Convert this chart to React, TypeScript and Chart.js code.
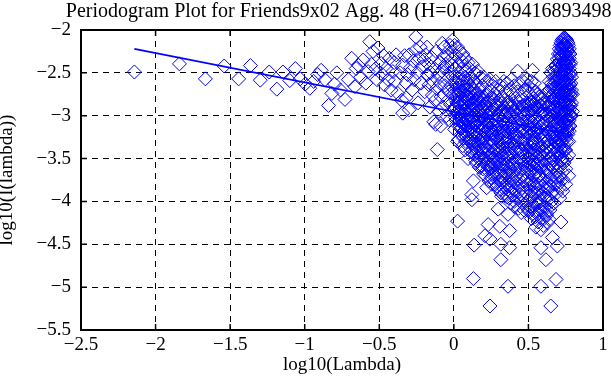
import React, { useEffect, useRef } from "react";
import { Chart, registerables } from "chart.js";

Chart.register(...registerables);

const TITLE = "Periodogram Plot for Friends9x02 Agg. 48 (H=0.671269416893498)";
const X_LABEL = "log10(Lambda)";
const Y_LABEL = "log10(I(lambda))";

const xTicks = [-2.5, -2, -1.5, -1, -0.5, 0, 0.5, 1];
const yTicks = [-5.5, -5, -4.5, -4, -3.5, -3, -2.5, -2];

// fitted regression line (log10 lambda, log10 I)
const fitLogLambda = [-2.142, 0.798];
const fitLogPeriodogram = [-2.22, -3.227];

// sparse low-frequency points: [log10(lambda), log10(I(lambda))]
const lowFreq: number[][] = [
  [-2.142, -2.49], [-1.84, -2.395], [-1.666, -2.57], [-1.54, -2.42], [-1.443, -2.57],
  [-1.364, -2.415], [-1.298, -2.585], [-1.238, -2.49], [-1.187, -2.69], [-1.146, -2.49],
  [-1.1, -2.59], [-1.063, -2.45], [-1.03, -2.57], [-0.996, -2.63], [-0.966, -2.68],
  [-0.94, -2.6], [-0.913, -2.52], [-0.89, -2.47], [-0.864, -2.58], [-0.84, -2.88],
  [-0.818, -2.74], [-0.8, -2.63], [-0.785, -2.5], [-0.76, -2.7], [-0.73, -2.81],
  [-0.707, -2.58], [-0.685, -2.33], [-0.664, -2.66], [-0.655, -2.45], [-0.641, -2.41],
  [-0.625, -2.55], [-0.608, -2.35], [-0.59, -2.62], [-0.575, -2.485], [-0.564, -2.136],
  [-0.553, -2.4], [-0.542, -2.25], [-0.525, -2.45], [-0.515, -2.58], [-0.509, -2.21],
];

const midFreq: number[][] = [
  [-0.487, -2.39], [-0.48, -2.52], [-0.47, -2.3], [-0.465, -2.64], [-0.455, -2.45],
  [-0.44, -2.58], [-0.432, -2.33], [-0.42, -2.7], [-0.409, -2.485], [-0.4, -2.38],
  [-0.395, -2.6], [-0.387, -2.29], [-0.376, -2.74], [-0.36, -2.5], [-0.35, -2.82],
  [-0.343, -2.41], [-0.343, -2.97], [-0.33, -2.3], [-0.321, -2.79], [-0.32, -2.62],
  [-0.31, -2.52], [-0.3, -2.93], [-0.299, -2.29], [-0.29, -2.44], [-0.28, -2.7],
  [-0.27, -2.36], [-0.266, -2.58], [-0.255, -2.08], [-0.255, -2.23], [-0.245, -2.5],
  [-0.24, -2.85], [-0.233, -2.33], [-0.225, -2.2], [-0.22, -2.62], [-0.21, -2.43],
  [-0.2, -2.35], [-0.195, -2.72], [-0.189, -2.29], [-0.18, -2.2], [-0.177, -2.52],
  [-0.17, -2.4], [-0.167, -2.64], [-0.16, -2.9], [-0.155, -2.5], [-0.15, -2.32],
  [-0.144, -2.76], [-0.14, -2.6], [-0.134, -3.07], [-0.13, -2.45], [-0.125, -2.82],
  [-0.122, -3.1], [-0.12, -2.25], [-0.115, -2.68], [-0.111, -3.395], [-0.105, -2.52],
  [-0.1, -2.95], [-0.095, -2.38], [-0.09, -2.62], [-0.089, -3.12], [-0.085, -2.78],
  [-0.08, -2.48], [-0.078, -2.155], [-0.072, -2.9], [-0.067, -2.31], [-0.067, -2.445],
  [-0.065, -2.2], [-0.06, -2.65], [-0.055, -2.4], [-0.05, -3.0], [-0.045, -2.58],
  [-0.042, -2.3], [-0.04, -2.82], [-0.034, -2.72], [-0.03, -2.5], [-0.028, -3.05],
  [-0.023, -2.87], [-0.02, -2.65], [-0.015, -2.25], [-0.012, -2.41], [-0.008, -2.95],
  [-0.005, -2.55], [-0.002, -2.75], [-0.01, -2.12], [-0.018, -2.34], [-0.026, -2.18],
];

// dense band, read column by column: [log10(lambda), [log10(I) values...]]
const highFreq: [number, number[]][] = [
  [0.005, [-2.18, -2.45, -2.7, -2.92, -3.16]],
  [0.015, [-2.3, -2.55, -2.82, -3.05]],
  [0.025, [-2.2, -2.62, -2.98, -3.3, -4.23]],
  [0.032, [-2.4, -2.75, -3.28]],
  [0.04, [-2.25, -2.5, -2.88, -3.12]],
  [0.05, [-2.35, -2.65, -3.0, -3.22]],
  [0.06, [-2.28, -2.58, -2.8, -3.08, -3.35]],
  [0.07, [-2.42, -2.7, -2.95, -3.18]],
  [0.076, [-2.33, -2.55, -2.85, -3.4]],
  [0.085, [-2.48, -2.76, -3.05, -3.25]],
  [0.095, [-2.38, -2.62, -2.9, -3.12, -3.5]],
  [0.105, [-2.45, -2.72, -2.98, -3.3]],
  [0.115, [-2.55, -2.82, -3.08, -3.42]],
  [0.121, [-3.92, -3.98]],
  [0.125, [-2.4, -2.68, -2.92, -3.2]],
  [0.131, [-2.6, -3.35, -3.76, -4.9]],
  [0.136, [-2.85, -3.1, -4.51]],
  [0.142, [-2.5, -2.75, -3.0, -3.45]],
  [0.15, [-2.62, -2.9, -3.2, -3.55]],
  [0.16, [-2.48, -2.8, -3.05, -3.32]],
  [0.17, [-2.7, -2.95, -3.15, -3.6]],
  [0.18, [-2.55, -2.85, -3.1, -3.4]],
  [0.19, [-2.65, -3.0, -3.25, -3.52]],
  [0.2, [-2.55, -2.78, -3.12, -3.38, -3.68]],
  [0.209, [-2.9, -3.2, -4.4]],
  [0.22, [-2.6, -2.85, -3.05, -3.45, -3.84]],
  [0.23, [-2.72, -3.0, -3.3, -3.6, -4.27]],
  [0.242, [-2.58, -2.92, -3.15, -3.5, -4.44, -5.22]],
  [0.25, [-2.8, -3.08, -3.35, -3.72]],
  [0.26, [-2.65, -2.95, -3.22, -3.55]],
  [0.27, [-2.75, -3.05, -3.4, -3.8]],
  [0.28, [-2.6, -2.88, -3.18, -3.48, -3.65]],
  [0.297, [-2.7, -3.0, -3.3, -3.6, -4.09]],
  [0.308, [-2.82, -3.1, -3.42, -3.75, -4.29]],
  [0.315, [-2.65, -2.95, -3.25, -3.9, -4.5, -4.68]],
  [0.325, [-2.78, -3.05, -3.35, -3.62]],
  [0.335, [-2.6, -2.9, -3.18, -3.5, -3.85]],
  [0.345, [-2.72, -3.0, -3.3, -3.7]],
  [0.355, [-2.62, -2.85, -3.12, -3.45, -3.95]],
  [0.363, [-2.95, -3.25, -3.6, -4.15, -4.99]],
  [0.374, [-2.7, -3.05, -3.38, -3.8, -4.34, -4.54]],
  [0.385, [-2.58, -2.88, -3.2, -3.52, -3.9]],
  [0.395, [-2.75, -3.02, -3.32, -3.68]],
  [0.405, [-2.65, -2.95, -3.25, -3.58, -4.0]],
  [0.415, [-2.8, -3.1, -3.42, -3.78]],
  [0.427, [-2.48, -2.72, -3.0, -3.3, -3.62]],
  [0.44, [-2.62, -2.9, -3.18, -3.5, -3.88]],
  [0.452, [-2.78, -3.05, -3.4, -3.72, -4.13]],
  [0.465, [-2.6, -2.88, -3.15, -3.45, -3.95]],
  [0.478, [-2.7, -3.0, -3.28, -3.6, -4.05]],
  [0.49, [-2.58, -2.85, -3.12, -3.42, -3.8]],
  [0.5, [-2.65, -2.92, -3.2, -3.5, -3.85, -4.1]],
  [0.51, [-2.75, -3.05, -3.35, -3.65, -3.98]],
  [0.52, [-2.6, -2.88, -3.15, -3.45, -3.75, -4.2]],
  [0.527, [-2.47, -2.7, -3.0, -3.3, -3.58]],
  [0.535, [-2.8, -3.1, -3.4, -3.7, -4.05]],
  [0.54, [-2.62, -2.95, -3.25, -3.55, -3.9, -4.06]],
  [0.55, [-2.72, -3.02, -3.32, -3.62, -4.0, -4.3]],
  [0.56, [-2.75, -2.9, -3.18, -3.48, -3.8, -4.15]],
  [0.57, [-2.78, -3.08, -3.38, -3.7, -4.02]],
  [0.584, [-2.8, -2.98, -3.28, -3.6, -3.92, -4.33, -4.54, -4.99]],
  [0.595, [-2.8, -3.1, -3.42, -3.75, -4.1]],
  [0.605, [-2.76, -2.95, -3.22, -3.52, -3.85, -4.2]],
  [0.617, [-2.85, -3.15, -3.45, -3.78, -4.13, -4.68]],
  [0.628, [-2.72, -3.0, -3.3, -3.62, -3.95, -4.25]],
  [0.639, [-2.6, -2.9, -3.2, -3.5, -3.85, -4.21]],
  [0.65, [-2.5, -2.78, -3.08, -3.4, -3.72, -4.05, -5.22]],
  [0.661, [-2.45, -2.65, -2.95, -3.25, -3.6, -3.9, -4.42]],
];

// the solid core of the dense band, column by column
const coreFreq: [number, number[]][] = [
  [0.01, [-2.62, -2.78, -2.9, -3.02]],
  [0.02, [-2.68, -2.85, -2.96, -3.1]],
  [0.036, [-2.58, -2.7, -2.84, -2.97, -3.06]],
  [0.045, [-2.72, -2.82, -2.95, -3.15]],
  [0.055, [-2.6, -2.76, -2.9, -3.05, -3.14]],
  [0.065, [-2.66, -2.85, -2.98, -3.1, -3.26]],
  [0.08, [-2.7, -2.8, -2.94, -3.12, -3.3]],
  [0.09, [-2.6, -2.82, -2.98, -3.18]],
  [0.1, [-2.78, -2.88, -3.04, -3.2, -3.36]],
  [0.11, [-2.66, -2.92, -3.14, -3.26]],
  [0.12, [-2.74, -2.86, -3.02, -3.14, -3.32]],
  [0.128, [-2.8, -3.06, -3.28, -3.44]],
  [0.138, [-2.7, -2.92, -3.18, -3.3]],
  [0.146, [-2.82, -3.08, -3.24, -3.38, -3.52]],
  [0.155, [-2.74, -2.98, -3.12, -3.42]],
  [0.165, [-2.88, -3.0, -3.22, -3.38, -3.5]],
  [0.175, [-2.78, -3.04, -3.28, -3.46]],
  [0.185, [-2.9, -3.0, -3.16, -3.32, -3.58]],
  [0.195, [-2.8, -2.94, -3.18, -3.44, -3.62]],
  [0.205, [-2.86, -3.04, -3.26, -3.5]],
  [0.215, [-2.76, -2.96, -3.14, -3.36, -3.56, -3.7]],
  [0.225, [-2.9, -3.1, -3.22, -3.4, -3.64]],
  [0.236, [-2.82, -3.06, -3.2, -3.42, -3.58, -3.76]],
  [0.246, [-2.96, -3.14, -3.28, -3.46, -3.62]],
  [0.255, [-2.88, -3.0, -3.2, -3.44, -3.6, -3.8]],
  [0.265, [-2.8, -3.1, -3.3, -3.5, -3.68]],
  [0.275, [-2.92, -3.14, -3.26, -3.58, -3.72]],
  [0.288, [-2.84, -3.06, -3.24, -3.4, -3.54, -3.82]],
  [0.302, [-2.9, -3.16, -3.36, -3.5, -3.66, -3.86]],
  [0.312, [-2.98, -3.2, -3.32, -3.56, -3.7]],
  [0.32, [-2.86, -3.12, -3.28, -3.46, -3.78, -3.94]],
  [0.33, [-2.94, -3.22, -3.4, -3.58, -3.72]],
  [0.34, [-2.82, -3.1, -3.24, -3.44, -3.64, -3.9]],
  [0.35, [-2.96, -3.18, -3.38, -3.56, -3.8]],
  [0.36, [-2.88, -3.08, -3.3, -3.48, -3.7, -3.86]],
  [0.368, [-2.84, -3.14, -3.44, -3.66, -3.96]],
  [0.38, [-2.98, -3.16, -3.3, -3.62, -3.76, -4.02]],
  [0.39, [-2.9, -3.1, -3.44, -3.58, -3.84]],
  [0.4, [-2.86, -3.14, -3.36, -3.5, -3.74, -3.92]],
  [0.41, [-2.96, -3.2, -3.3, -3.62, -3.86, -4.06]],
  [0.42, [-2.9, -3.04, -3.24, -3.52, -3.7, -3.96]],
  [0.433, [-2.84, -3.12, -3.38, -3.56, -3.8, -4.08]],
  [0.446, [-2.96, -3.26, -3.44, -3.62, -3.92]],
  [0.458, [-2.9, -3.18, -3.3, -3.54, -3.84, -4.02]],
  [0.47, [-2.98, -3.08, -3.34, -3.52, -3.76, -4.1]],
  [0.484, [-2.88, -3.2, -3.38, -3.66, -3.9]],
  [0.495, [-2.96, -3.06, -3.3, -3.6, -3.72, -4.0]],
  [0.505, [-2.86, -3.14, -3.42, -3.56, -3.8, -4.12]],
  [0.515, [-2.94, -3.22, -3.36, -3.58, -3.88, -4.06]],
  [0.524, [-2.84, -3.08, -3.46, -3.64, -3.94]],
  [0.531, [-2.92, -3.18, -3.32, -3.52, -3.8, -4.14]],
  [0.545, [-2.86, -3.12, -3.4, -3.68, -3.84, -4.18]],
  [0.555, [-2.9, -3.16, -3.48, -3.58, -3.9, -4.12]],
  [0.565, [-2.94, -3.24, -3.34, -3.56, -3.86, -4.24]],
  [0.577, [-2.88, -3.14, -3.46, -3.7, -3.98, -4.1]],
  [0.59, [-2.96, -3.2, -3.36, -3.54, -3.82, -4.2]],
  [0.6, [-2.86, -3.08, -3.3, -3.64, -3.9, -4.28]],
  [0.611, [-2.98, -3.24, -3.4, -3.58, -3.96, -4.06]],
  [0.622, [-2.9, -3.12, -3.36, -3.7, -3.84, -4.16]],
  [0.633, [-2.8, -3.06, -3.28, -3.44, -3.66, -3.98]],
  [0.644, [-2.7, -2.96, -3.16, -3.34, -3.56, -3.82, -4.1]],
  [0.655, [-2.62, -2.86, -3.0, -3.2, -3.5, -3.76, -4.0]],
  [0.672, [-3.12, -3.3, -3.52, -3.8, -4.02]],
  [0.69, [-3.3, -3.48, -3.72, -3.9]],
  [0.71, [-3.34, -3.6, -3.84, -3.96]],
  [0.73, [-3.5, -3.74, -3.88]],
  [0.75, [-3.4, -3.62, -3.8]],
  [0.77, [-3.3, -3.46, -3.7]],
];

// the bright spike near the highest frequencies, column by column
const peakFreq: [number, number[]][] = [
  [0.668, [-2.55, -2.68, -2.8, -2.93, -3.06, -3.2, -3.38, -3.6]],
  [0.677, [-2.48, -2.6, -2.72, -2.85, -2.98, -3.1, -3.25, -3.45, -3.7]],
  [0.685, [-2.42, -2.54, -2.66, -2.78, -2.9, -3.03, -3.16, -3.32, -3.55, -4.91]],
  [0.694, [-2.34, -2.46, -2.58, -2.7, -2.82, -2.95, -3.08, -3.22, -3.4, -3.65, -4.52]],
  [0.701, [-2.28, -2.38, -2.5, -2.62, -2.74, -2.86, -2.98, -3.11, -3.25, -3.44, -3.8]],
  [0.707, [-2.22, -2.33, -2.44, -2.56, -2.68, -2.8, -2.92, -3.04, -3.18, -3.35, -3.58]],
  [0.713, [-2.18, -2.28, -2.39, -2.5, -2.62, -2.74, -2.86, -2.98, -3.12, -3.28, -3.48, -3.72]],
  [0.718, [-2.15, -2.24, -2.35, -2.46, -2.58, -2.7, -2.82, -2.94, -3.06, -3.2, -3.38, -4.24]],
  [0.724, [-2.12, -2.21, -2.31, -2.42, -2.54, -2.66, -2.78, -2.9, -3.02, -3.15, -3.3, -3.52]],
  [0.729, [-2.11, -2.19, -2.29, -2.4, -2.51, -2.63, -2.75, -2.87, -2.99, -3.12, -3.26, -3.42, -3.66]],
  [0.734, [-2.1, -2.17, -2.27, -2.38, -2.49, -2.61, -2.73, -2.85, -2.97, -3.09, -3.23, -3.38]],
  [0.739, [-2.09, -2.16, -2.26, -2.36, -2.47, -2.59, -2.71, -2.83, -2.95, -3.07, -3.2, -3.35, -3.55]],
  [0.744, [-2.09, -2.17, -2.27, -2.37, -2.48, -2.6, -2.72, -2.84, -2.96, -3.08, -3.22, -3.4]],
  [0.749, [-2.1, -2.18, -2.28, -2.39, -2.5, -2.62, -2.74, -2.86, -2.98, -3.11, -3.26]],
  [0.754, [-2.11, -2.2, -2.3, -2.41, -2.53, -2.65, -2.77, -2.89, -3.01, -3.14, -3.3, -3.5]],
  [0.759, [-2.13, -2.22, -2.33, -2.44, -2.56, -2.68, -2.8, -2.92, -3.04, -3.18]],
  [0.764, [-2.15, -2.25, -2.36, -2.47, -2.59, -2.71, -2.83, -2.95, -3.07, -3.22]],
  [0.769, [-2.18, -2.28, -2.39, -2.51, -2.63, -2.75, -2.87, -2.99, -3.12]],
  [0.774, [-2.22, -2.33, -2.45, -2.57, -2.69, -2.81, -2.93, -3.05, -3.18]],
  [0.779, [-2.28, -2.4, -2.52, -2.64, -2.76, -2.88, -3.0, -3.12]],
  [0.784, [-2.38, -2.5, -2.62, -2.75, -2.88, -3.0]],
  [0.789, [-2.55, -2.7, -2.85, -3.0]],
  [0.795, [-2.75, -2.95]],
];

const BLUE = "#0000ff";
const FONT = "'Liberation Serif', 'Times New Roman', Times, serif";

const fmt = (v: number) => (v < 0 ? "\u2212" + String(Math.abs(v)) : String(v));

// title centred over the axes, allowed to run past the right edge like the original
const titlePlugin = {
  id: "axesTitle",
  afterDraw(chart: any) {
    const { ctx, chartArea } = chart;
    ctx.save();
    ctx.fillStyle = "#000";
    ctx.font = `20px ${FONT}`;
    ctx.textAlign = "center";
    ctx.textBaseline = "alphabetic";
    ctx.fillText(TITLE, (chartArea.left + chartArea.right) / 2, 16.5);
    ctx.restore();
  },
};

const framePlugin = {
  id: "matlabFrame",
  afterDraw(chart: any) {
    const { ctx, chartArea } = chart;
    const { left, right, top, bottom } = chartArea;
    const xs = chart.scales.x;
    const ys = chart.scales.y;
    const len = 6;
    ctx.save();
    ctx.strokeStyle = "#000";
    ctx.lineWidth = 1.5;
    ctx.setLineDash([]);
    ctx.beginPath();
    xs.ticks.forEach((t: any) => {
      const p = xs.getPixelForValue(t.value);
      ctx.moveTo(p, bottom);
      ctx.lineTo(p, bottom - len);
      ctx.moveTo(p, top);
      ctx.lineTo(p, top + len);
    });
    ys.ticks.forEach((t: any) => {
      const p = ys.getPixelForValue(t.value);
      ctx.moveTo(left, p);
      ctx.lineTo(left + len, p);
      ctx.moveTo(right, p);
      ctx.lineTo(right - len, p);
    });
    ctx.stroke();
    ctx.lineWidth = 2;
    ctx.strokeRect(left, top, right - left, bottom - top);
    ctx.restore();
  },
};

export default function App() {
  const ref = useRef<HTMLCanvasElement | null>(null);

  useEffect(() => {
    if (!ref.current) return;
    const points: { x: number; y: number }[] = [];
    lowFreq.forEach(([x, y]) => points.push({ x, y }));
    midFreq.forEach(([x, y]) => points.push({ x, y }));
    highFreq.forEach(([x, list]) => list.forEach((y) => points.push({ x, y })));
    coreFreq.forEach(([x, list]) => list.forEach((y) => points.push({ x, y })));
    peakFreq.forEach(([x, list]) => list.forEach((y) => points.push({ x, y })));
    const fit = fitLogLambda.map((x, i) => ({ x, y: fitLogPeriodogram[i] }));

    const chart = new Chart(ref.current, {
      type: "scatter",
      data: {
        datasets: [
          {
            data: fit,
            showLine: true,
            borderColor: BLUE,
            borderWidth: 1.6,
            pointRadius: 0,
            clip: 0,
            order: 0,
          } as any,
          {
            data: points,
            pointStyle: "rectRot",
            pointRadius: 7,
            borderColor: BLUE,
            backgroundColor: "rgba(0,0,0,0)",
            borderWidth: 1,
            clip: 0,
            order: 1,
          } as any,
        ],
      },
      options: {
        animation: false,
        responsive: false,
        events: [],
        layout: { padding: { left: 0, right: 3, top: 30, bottom: 0 } },
        plugins: {
          legend: { display: false },
          tooltip: { enabled: false },
          title: { display: false },
        },
        scales: {
          x: {
            type: "linear",
            min: -2.5,
            max: 1,
            afterBuildTicks: (s: any) => {
              s.ticks = xTicks.map((value) => ({ value }));
            },
            afterFit: (s: any) => {
              s.height = 55;
              s.paddingLeft = 0;
              s.paddingRight = 0;
            },
            ticks: {
              callback: (v: any) => fmt(Number(v)),
              color: "#000",
              padding: 4,
              autoSkip: false,
              maxRotation: 0,
              font: { family: FONT, size: 19 },
            },
            grid: { color: "#000", lineWidth: 1, drawTicks: false },
            border: { display: false, dash: [6, 5] },
            title: {
              display: true,
              text: X_LABEL,
              color: "#000",
              font: { family: FONT, size: 19, lineHeight: 1 },
              padding: { top: 0, bottom: 10 },
            },
          } as any,
          y: {
            type: "linear",
            min: -5.5,
            max: -2,
            afterBuildTicks: (s: any) => {
              s.ticks = yTicks.map((value) => ({ value }));
            },
            afterFit: (s: any) => {
              s.width = 81;
              s.paddingTop = 0;
              s.paddingBottom = 0;
            },
            ticks: {
              callback: (v: any) => fmt(Number(v)),
              color: "#000",
              padding: 10,
              autoSkip: false,
              font: { family: FONT, size: 19 },
            },
            grid: { color: "#000", lineWidth: 1, drawTicks: false },
            border: { display: false, dash: [6, 5] },
            title: {
              display: true,
              text: Y_LABEL,
              color: "#000",
              font: { family: FONT, size: 19, lineHeight: 1 },
              padding: { top: -2.4, bottom: 0 },
            },
          } as any,
        },
      },
      plugins: [framePlugin, titlePlugin],
    });
    return () => chart.destroy();
  }, []);

  return (
    <div style={{ position: "fixed", left: 0, top: 0, width: 611, height: 385, background: "#fff" }}>
      <canvas ref={ref} width={611} height={385} style={{ display: "block" }} />
    </div>
  );
}
